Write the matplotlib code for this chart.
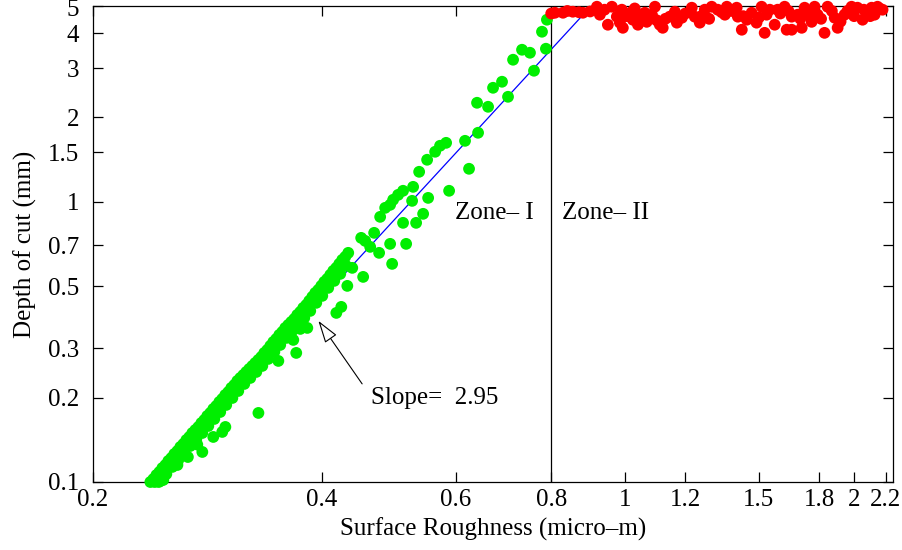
import numpy as np
import matplotlib
matplotlib.use("Agg")
import matplotlib.pyplot as plt
from matplotlib.ticker import FixedLocator, FixedFormatter, NullLocator

# ---------------- data ----------------
# Zone I (green) : main ridge of the band
ridge_x = [0.2379,0.2401,0.2423,0.2445,0.2467,0.2490,0.2512,0.2535,0.2558,0.2582,
           0.2605,0.2629,0.2653,0.2677,0.2701,0.2726,0.2751,0.2776,0.2801,0.2826,
           0.2852,0.2878,0.2904,0.2931,0.2957,0.2984,0.3012,0.3039,0.3067,0.3095,
           0.3123,0.3152,0.3180,0.3209,0.3239,0.3268,0.3298,0.3328,0.3358,0.3389,
           0.3420,0.3451,0.3482,0.3514,0.3546,0.3578,0.3611,0.3644,0.3677,0.3710,
           0.3744,0.3778,0.3813,0.3847,0.3883,0.3918,0.3954,0.3990,0.4026,0.4063,
           0.4100,0.4137,0.4175,0.4213,0.4251,0.4290,0.4329]
ridge_y = [0.1000,0.1025,0.1059,0.1086,0.1122,0.1150,0.1189,0.1218,0.1259,0.1290,
           0.1334,0.1367,0.1413,0.1448,0.1496,0.1534,0.1572,0.1624,0.1665,0.1721,
           0.1764,0.1823,0.1868,0.1931,0.1979,0.2045,0.2096,0.2167,0.2220,0.2295,
           0.2352,0.2410,0.2471,0.2533,0.2596,0.2661,0.2727,0.2795,0.2889,0.2961,
           0.3061,0.3162,0.3241,0.3350,0.3433,0.3548,0.3637,0.3728,0.3820,0.3948,
           0.4047,0.4183,0.4287,0.4430,0.4580,0.4732,0.4850,0.5012,0.5180,0.5309,
           0.5487,0.5670,0.5812,0.6006,0.6207,0.6362,0.6575]
# Zone I : second row of the band, just right / below
band_x = [0.2452,0.2497,0.2543,0.2589,0.2637,0.2685,0.2734,0.2784,0.2835,0.2887,
          0.2939,0.2993,0.3049,0.3104,0.3161,0.3219,0.3278,0.3338,0.3399,0.3462,
          0.3524,0.3589,0.3655,0.3722,0.3790,0.3859,0.3930,0.4002,0.4075,0.4150,
          0.4226,0.4303,0.2440,0.2474,0.2410]
band_y = [0.1008,0.1068,0.1132,0.1198,0.1270,0.1345,0.1424,0.1496,0.1585,0.1679,
          0.1778,0.1884,0.1995,0.2113,0.2239,0.2352,0.2471,0.2596,0.2750,0.2914,
          0.3085,0.3268,0.3462,0.3636,0.3852,0.4081,0.4360,0.4617,0.4931,0.5223,
          0.5532,0.5908,0.1000,0.1017,0.1000]
# Zone I : upper points beyond the dense band
upper_x = [0.4502,0.4557,0.4682,0.4768,0.4841,0.4914,0.4959,0.5034,0.5110,0.5268,
           0.5252,0.5365,0.5496,0.5631,0.5715,0.5821,0.6164,0.6412,0.6392,0.6609,
           0.6709,0.6894,0.7128,0.7324,0.7502,0.7780,0.7897,0.7020,0.7594,0.7873]
upper_y = [0.7436,0.7255,0.7750,0.8839,0.9519,0.9757,1.017,1.059,1.095,1.131,
           1.008,1.280,1.413,1.509,1.585,1.624,1.651,1.764,2.257,2.184,
           2.553,2.683,3.215,3.490,3.405,4.047,4.467,2.371,2.937,3.519]
# Zone I : scattered points below the band
lower_x = [0.2582,0.2665,0.2742,0.2784,0.2878,0.2957,0.2985,0.3299,0.3504,0.3699,
           0.3666,0.3745,0.3825,0.4176,0.4239,0.4317,0.4382,0.4529,0.4626,0.4753,
           0.4914,0.4944,0.5158,0.5110,0.5316,0.5430,0.5513,0.5874,0.6239]
lower_y = [0.1150,0.1228,0.1360,0.1280,0.1448,0.1509,0.1572,0.1764,0.2705,0.2889,
           0.3215,0.3519,0.3548,0.4014,0.4217,0.5012,0.5812,0.5396,0.6907,0.6575,
           0.7079,0.6006,0.7079,0.8414,0.8414,0.9061,1.033,1.095,1.312]

# Zone II (red)
zone2_x = [0.809,0.829,0.854,0.8805,0.9186,0.9269,0.9496,0.9612,0.9757,0.9906,
           0.9847,0.9936,1.021,1.024,1.040,1.062,1.068,1.095,1.085,1.111,
           1.121,1.145,1.163,1.170,1.188,1.224,1.235,1.254,1.273,1.300,
           1.324,1.361,1.353,1.402,1.407,1.424,1.446,1.467,1.489,1.512,
           1.526,1.535,1.573,1.587,1.621,1.631,1.656,1.656,1.686,1.707,
           1.722,1.759,1.775,1.791,1.829,1.846,1.886,1.903,1.943,1.985,
           2.021,2.052,2.077,2.109,2.128,2.147,2.180,
           0.80,0.84,0.87,0.90,0.94,1.005,1.03,1.05,1.10,1.13,
           1.20,1.26,1.29,1.34,1.38,1.43,1.50,1.55,1.60,1.64,
           1.70,1.74,1.81,1.87,1.92,1.96,2.00,2.06,2.10,2.16]
zone2_y = [4.73,4.73,4.77,4.73,4.97,4.655,4.287,4.97,4.58,4.85,
           4.36,4.18,4.77,4.467,4.287,4.73,4.39,4.97,4.655,4.287,
           4.18,4.58,4.77,4.36,4.54,4.93,4.58,4.36,4.85,4.97,
           4.85,4.97,4.655,4.93,4.58,4.114,4.467,4.73,4.36,4.97,
           4.01,4.655,4.287,4.85,4.97,4.114,4.114,4.58,4.655,4.18,
           4.93,4.39,4.97,4.655,4.01,4.97,4.54,4.18,4.655,4.97,
           4.93,4.467,4.73,4.93,4.655,4.97,4.85,
           4.70,4.80,4.75,4.78,4.85,4.60,4.90,4.60,4.45,4.50,
           4.70,4.60,4.50,4.75,4.80,4.60,4.55,4.85,4.70,4.80,
           4.50,4.65,4.50,4.80,4.40,4.80,4.60,4.85,4.60,4.90]

# fitted line (log-log) and zone boundary
fit_slope = 2.95
fit_anchor_x, fit_anchor_y = 0.8, 3.5
zone_boundary = 0.8

xticks = [0.2, 0.4, 0.6, 0.8, 1, 1.2, 1.5, 1.8, 2, 2.2]
xticklabels = ["0.2", "0.4", "0.6", "0.8", "1", "1.2", "1.5", "1.8", "2", "2.2"]
yticks = [0.1, 0.2, 0.3, 0.5, 0.7, 1, 1.5, 2, 3, 4, 5]
yticklabels = ["0.1", "0.2", "0.3", "0.5", "0.7", "1", "1.5", "2", "3", "4", "5"]

# ---------------- plot ----------------
plt.rcParams['font.family'] = ['Liberation Serif', 'DejaVu Serif']
FS = 18

fig = plt.figure(figsize=(9.03, 5.5), dpi=100)
ax = fig.add_axes([93/903, 1-482/550, 800/903, 476/550])
ax.set_xscale('log')
ax.set_yscale('log')
ax.set_xlim(0.2, 2.25)
ax.set_ylim(0.1, 5)

# fit line
fx = np.array([0.2, 1.0])
fy = fit_anchor_y * (fx / fit_anchor_x) ** fit_slope
ax.plot(fx, fy, color='#0000ff', lw=0.9, zorder=2)
ax.axvline(zone_boundary, color='black', lw=0.9, zorder=2)

gx = ridge_x + band_x + upper_x + lower_x
gy = ridge_y + band_y + upper_y + lower_y
ax.scatter(gx, gy, s=72, color='#00ee00', edgecolors='none', zorder=3, clip_on=False)
ax.scatter(zone2_x, zone2_y, s=72, color='#ff0000', edgecolors='none', zorder=3, clip_on=False)

# y tick labels: the top one is drawn separately, nudged down so it stays inside the figure
ylab_shown = yticklabels[:-1] + [""]
ax.xaxis.set_major_locator(FixedLocator(xticks))
ax.xaxis.set_major_formatter(FixedFormatter(xticklabels))
ax.yaxis.set_major_locator(FixedLocator(yticks))
ax.yaxis.set_major_formatter(FixedFormatter(ylab_shown))
ax.xaxis.set_minor_locator(NullLocator())
ax.yaxis.set_minor_locator(NullLocator())
ax.tick_params(which='major', direction='in', length=7, width=0.9,
               top=True, right=True, labelsize=FS)
ax.tick_params(axis='x', pad=5)
ax.tick_params(axis='y', pad=10)
for sp in ax.spines.values():
    sp.set_linewidth(0.9)
ax.annotate(yticklabels[-1], xy=(0, yticks[-1]), xycoords=('axes fraction', 'data'),
            xytext=(-10, -3), textcoords='offset points',
            ha='right', va='center', fontsize=FS)

ax.set_xlabel("Surface Roughness (micro\u2013m)", fontsize=FS, labelpad=5)
ax.set_ylabel("Depth of cut (mm)", fontsize=FS, labelpad=8)

ax.text(0.598, 0.9135, "Zone\u2013 I", fontsize=FS, ha='left', va='center')
ax.text(0.8264, 0.9135, "Zone\u2013 II", fontsize=FS, ha='left', va='center')

ax.annotate('', xy=(0.3955, 0.376), xytext=(0.4515, 0.224),
            arrowprops=dict(arrowstyle='-|>,head_length=0.7,head_width=0.22',
                            mutation_scale=20, fc='white', ec='black', lw=0.8,
                            shrinkA=0, shrinkB=0), zorder=4)
ax.text(0.464, 0.1995, "Slope=  2.95", fontsize=FS, ha='left', va='center')

fig.savefig("out.png", dpi=100)
